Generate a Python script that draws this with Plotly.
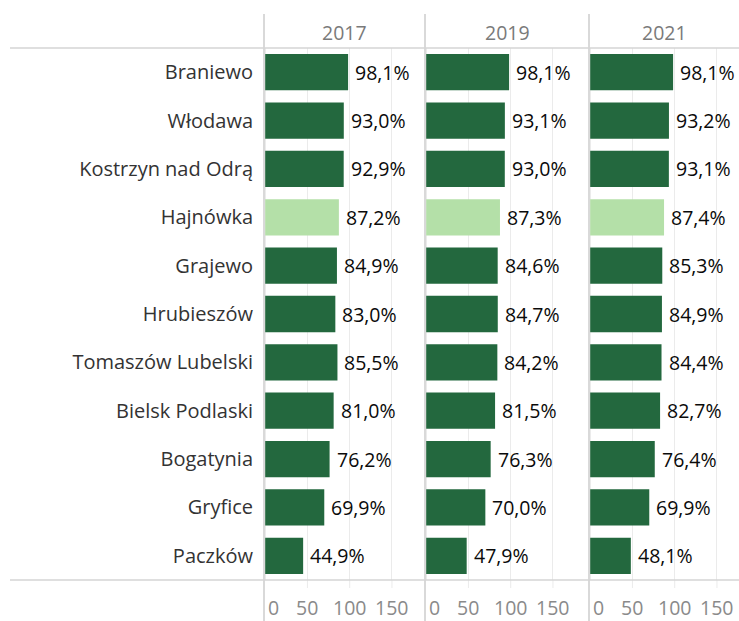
import plotly.graph_objects as go

categories = ["Braniewo", "Włodawa", "Kostrzyn nad Odrą", "Hajnówka", "Grajewo",
              "Hrubieszów", "Tomaszów Lubelski", "Bielsk Podlaski", "Bogatynia",
              "Gryfice", "Paczków"]
years = ["2017", "2019", "2021"]
values_2017 = [98.1, 93.0, 92.9, 87.2, 84.9, 83.0, 85.5, 81.0, 76.2, 69.9, 44.9]
values_2019 = [98.1, 93.1, 93.0, 87.3, 84.6, 84.7, 84.2, 81.5, 76.3, 70.0, 47.9]
values_2021 = [98.1, 93.2, 93.1, 87.4, 85.3, 84.9, 84.4, 82.7, 76.4, 69.9, 48.1]
highlight = "Hajnówka"
tick_vals = [0, 50, 100, 150]
tick_text = ["0", "50", "100", "150"]

series = [values_2017, values_2019, values_2021]

W, H = 739, 621
DARK = "#23683E"
LIGHT = "#B4E0A8"
FONT = "Open Sans, DejaVu Sans, sans-serif"
FS = 19.5

def px(x):
    return x / W

def py(y):
    return 1 - y / H

# panel pixel bounds
panels = [(264, 425), (425, 589), (589, 739)]
scale = 0.845  # px per unit
top_px, bot_px = 48, 580

fig = go.Figure()
annotations = []
shapes = []

for i, (vals, yr, (x0, x1)) in enumerate(zip(series, years, panels)):
    xa = "x" if i == 0 else f"x{i+1}"
    ya = "y" if i == 0 else f"y{i+1}"
    colors = [LIGHT if c == highlight else DARK for c in categories]
    fig.add_trace(go.Bar(
        x=vals, y=categories, orientation="h",
        marker=dict(color=colors, line=dict(width=0)),
        width=0.75, xaxis=xa, yaxis=ya, showlegend=False,
        hoverinfo="x+y",
    ))
    rng = [-(1.2 / scale), (x1 - x0 - 1.2) / scale]
    axkey = "xaxis" if i == 0 else f"xaxis{i+1}"
    aykey = "yaxis" if i == 0 else f"yaxis{i+1}"
    fig.layout[axkey] = dict(
        domain=[px(x0), px(x1)], range=rng, anchor=ya,
        tickvals=tick_vals, showticklabels=False, showgrid=True,
        gridcolor="#ebebeb", gridwidth=1, zeroline=False, showline=False,
        fixedrange=True,
    )
    fig.layout[aykey] = dict(
        domain=[py(bot_px), py(top_px)], anchor=xa,
        type="category", categoryorder="array", categoryarray=categories,
        range=[len(categories) - 0.5, -0.5],
        showticklabels=(i == 0), showgrid=False, zeroline=False, showline=False,
        ticks="", ticklabelstandoff=10,
        tickfont=dict(family=FONT, size=20, color="#333333"),
        fixedrange=True,
    )
    # value labels
    for c, v in zip(categories, vals):
        annotations.append(dict(
            x=v, y=c, xref=xa, yref=ya, xanchor="left", yanchor="middle",
            xshift=5, text=f"{v:.1f}".replace(".", ",") + "%", showarrow=False,
            font=dict(family=FONT, size=FS, color="#0a0a0a"),
        ))
    # year header
    annotations.append(dict(
        x=px((x0 + x1) / 2), y=py(32), xref="paper", yref="paper",
        xanchor="center", yanchor="middle", text=yr, showarrow=False,
        font=dict(family=FONT, size=FS, color="#7a7a7a"),
    ))
    # tick labels
    for tv, tt in zip(tick_vals, tick_text):
        annotations.append(dict(
            x=tv, y=py(607), xref=xa, yref="paper",
            xanchor="left" if tv == 0 else "center", yanchor="middle",
            xshift=1 if tv == 0 else 0,
            text=tt, showarrow=False,
            font=dict(family=FONT, size=FS, color="#8a8a8a"),
        ))
    # gridline extension into tick area (tick marks)
    for tv in tick_vals[1:]:
        shapes.append(dict(type="line", xref=xa, yref="paper", x0=tv, x1=tv,
                           y0=py(bot_px), y1=py(588),
                           line=dict(color="#ebebeb", width=1)))
    # panel left divider
    shapes.append(dict(type="line", xref="paper", yref="paper",
                       x0=px(x0), x1=px(x0), y0=py(14), y1=0,
                       line=dict(color="#cccccc", width=1.5)))

# horizontal header / footer lines
for yy in (top_px, bot_px):
    shapes.append(dict(type="line", xref="paper", yref="paper",
                       x0=px(10), x1=1, y0=py(yy), y1=py(yy),
                       line=dict(color="#d4d4d4", width=1.5)))

fig.update_layout(
    width=W, height=H, margin=dict(l=0, r=0, t=0, b=0),
    paper_bgcolor="white", plot_bgcolor="white",
    annotations=annotations, shapes=shapes, bargap=0.25,
    font=dict(family=FONT),
)

fig.write_html("out.html", config={"displayModeBar": False},
               post_script="document.body.style.margin='0';document.body.style.overflow='hidden';")
